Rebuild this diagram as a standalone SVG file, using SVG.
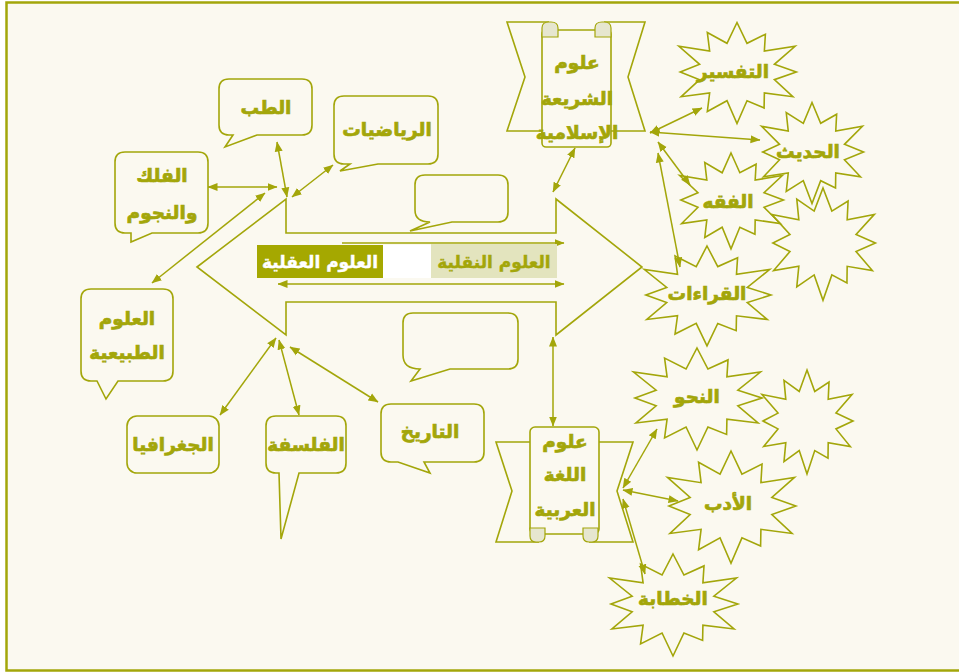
<svg xmlns="http://www.w3.org/2000/svg" xmlns:xlink="http://www.w3.org/1999/xlink" width="959" height="672" viewBox="0 0 959 672">
<style>
.ln{fill:none;stroke:#A3A60A;stroke-width:1.6}
.sh{fill:#FBF9F0;stroke:#A3A60A;stroke-width:1.6}
.st{fill:none;stroke:#A3A60A;stroke-width:1.6}
.tx{font-family:"DejaVu Sans",sans-serif;font-weight:bold;font-size:18.5px;fill:#A3A60A;stroke:#A3A60A;stroke-width:0.7;text-anchor:middle}
.cn{fill:none;stroke:#A3A60A;stroke-width:1.5;marker-start:url(#ah);marker-end:url(#ah)}
.cl{fill:#E6E6CF;stroke:#A3A60A;stroke-width:1.2}
</style>
<defs>
<marker id="ah" viewBox="0 0 10 10" refX="9.5" refY="5" markerWidth="10" markerHeight="10" markerUnits="userSpaceOnUse" orient="auto-start-reverse">
<path d="M0,1 L10,5 L0,9 Z" fill="#A3A60A"/>
</marker>
<path id="star" vector-effect="non-scaling-stroke" d="M0,-50 L7.76,-28.98 L22,-38.1 L21.21,-21.21 L45.03,-26 L28.98,-7.76 L46,0 L28.98,7.76 L43.3,25 L21.21,21.21 L21,36.37 L7.76,28.98 L0,52 L-7.76,28.98 L-23,39.84 L-21.21,21.21 L-43.3,25 L-28.98,7.76 L-44,0 L-28.98,-7.76 L-45.03,-26 L-21.21,-21.21 L-23,-39.84 L-7.76,-28.98 Z"/>
</defs>
<rect width="959" height="672" fill="#FFFFFF"/>
<rect x="6.5" y="2.5" width="960" height="668" fill="#FBF9F0" stroke="#A3A60A" stroke-width="2.5"/>

<g id="big-arrow">
<polygon class="sh" points="197,267 286,199 286,233 556,233 556,199 642,267 556,335 556,302 286,302 286,335"/>
<rect x="383" y="245" width="48" height="33" fill="#FFFFFF"/>
<line class="cn" x1="278" y1="284" x2="564" y2="284"/>
<line class="ln" x1="342" y1="243" x2="564" y2="243" style="marker-end:url(#ah)"/>
</g>

<g id="label-aqliya">
<rect x="257" y="245" width="126" height="33" fill="#A5A800"/>
<text class="tx" x="320" y="268" style="fill:#FFFFFF;stroke:#FFFFFF;stroke-width:0.4;font-size:17px">العلوم العقلية</text>
</g>
<g id="label-naqliya">
<rect x="431" y="244" width="126" height="34" fill="#E3E4BE"/>
<text class="tx" x="494" y="268" style="font-size:17px;stroke-width:0.4">العلوم النقلية</text>
</g>

<g id="callout-empty-top">
<path class="sh" d="M425,175 H498 Q508,175 508,185 V212 Q508,222 498,222 H452 L410,231 L430,222 Q415,222 415,210 V185 Q415,175 425,175 Z"/>
</g>
<g id="callout-empty-bottom">
<path class="sh" d="M413,313 H508 Q518,313 518,323 V359 Q518,369 508,369 H450 L411,381 L420,369 Q403,369 403,355 V323 Q403,313 413,313 Z"/>
</g>

<g id="tib">
<path class="sh" d="M229,79 H302 Q312,79 312,89 V125 Q312,135 302,135 H257 L225,147 L233,135 H229 Q219,135 219,125 V89 Q219,79 229,79 Z"/>
<text class="tx" x="266" y="114">الطب</text>
</g>
<g id="riyadiyat">
<path class="sh" d="M344,96 H428 Q438,96 438,106 V154 Q438,164 428,164 H378 L340,171 L350,164 H344 Q334,164 334,154 V106 Q334,96 344,96 Z"/>
<text class="tx" x="387" y="136">الرياضيات</text>
</g>
<g id="falak">
<path class="sh" d="M125,152 H198 Q208,152 208,162 V223 Q208,233 198,233 H152 L131,242 L131,233 H125 Q115,233 115,223 V162 Q115,152 125,152 Z"/>
<text class="tx" x="162" y="182">الفلك</text>
<text class="tx" x="162" y="219">والنجوم</text>
</g>
<g id="tabiiya">
<path class="sh" d="M91,289 H163 Q173,289 173,299 V371 Q173,381 163,381 H118 L106,399 L97,381 H91 Q81,381 81,371 V299 Q81,289 91,289 Z"/>
<text class="tx" x="127" y="325">العلوم</text>
<text class="tx" x="127" y="359">الطبيعية</text>
</g>
<g id="jughrafiya">
<rect class="sh" x="127" y="416" width="92" height="57" rx="10"/>
<text class="tx" x="173" y="451">الجغرافيا</text>
</g>
<g id="falsafa">
<path class="sh" d="M276,416 H336 Q346,416 346,426 V463 Q346,473 336,473 H299 L281,539 L279,473 H276 Q266,473 266,463 V426 Q266,416 276,416 Z"/>
<text class="tx" x="306" y="451">الفلسفة</text>
</g>
<g id="tarikh">
<path class="sh" d="M391,404 H474 Q484,404 484,414 V452 Q484,462 474,462 H424 L430,473 L398,462 H391 Q381,462 381,452 V414 Q381,404 391,404 Z"/>
<text class="tx" x="430" y="438">التاريخ</text>
</g>

<g id="sharia">
<path class="sh" d="M549,22 H507 L525,77 L507,131 H545"/>
<path class="sh" d="M604,22 H645 L628,77 L645,131 H608"/>
<rect class="sh" x="542" y="30" width="69" height="117" rx="4"/>
<path class="cl" d="M542,37 V28 Q542,22 549,22 L551,22 Q558,22 558,28 V37 Z"/>
<path class="cl" d="M595,37 V28 Q595,22 602,22 L604,22 Q611,22 611,28 V37 Z"/>
<text class="tx" x="577" y="69">علوم</text>
<text class="tx" x="577" y="105">الشريعة</text>
<text class="tx" x="577" y="139">الإسلامية</text>
</g>

<g id="lugha">
<path class="sh" d="M530,442 H496 L512,491 L496,542 H539"/>
<path class="sh" d="M599,442 H633 L617,491 L633,542 H589"/>
<rect class="sh" x="530" y="427" width="69" height="107" rx="5"/>
<path class="cl" d="M530,528 V536 Q530,542 536,542 H539 Q545,542 545,536 V528 Z"/>
<path class="cl" d="M583,528 V536 Q583,542 589,542 H592 Q598,542 598,536 V528 Z"/>
<text class="tx" x="565" y="448">علوم</text>
<text class="tx" x="565" y="481">اللغة</text>
<text class="tx" x="565" y="516">العربية</text>
</g>

<g id="tafsir">
<use xlink:href="#star" class="st" transform="translate(737,72) scale(1.29,0.99)"/>
<text class="tx" x="733" y="78">التفسير</text>
</g>
<g id="hadith">
<use xlink:href="#star" class="st" transform="translate(812,152) scale(1.12,0.99)"/>
<text class="tx" x="808" y="158">الحديث</text>
</g>
<g id="fiqh">
<use xlink:href="#star" class="st" transform="translate(731,200) scale(1.14,0.94)"/>
<text class="tx" x="728" y="208">الفقه</text>
</g>
<g id="star-empty-1">
<use xlink:href="#star" class="st" transform="translate(823,243) scale(1.14,1.1)"/>
</g>
<g id="qiraat">
<use xlink:href="#star" class="st" transform="translate(707,295) scale(1.39,0.98)"/>
<text class="tx" x="707" y="300">القراءات</text>
</g>
<g id="nahw">
<use xlink:href="#star" class="st" transform="translate(697,398) scale(1.41,1.0)"/>
<text class="tx" x="697" y="403">النحو</text>
</g>
<g id="star-empty-2">
<use xlink:href="#star" class="st" transform="translate(807,421) scale(1.0,1.02)"/>
</g>
<g id="adab">
<use xlink:href="#star" class="st" transform="translate(731,506) scale(1.41,1.1)"/>
<text class="tx" x="728" y="510">الأدب</text>
</g>
<g id="khitaba">
<use xlink:href="#star" class="st" transform="translate(673,604) scale(1.41,1.0)"/>
<text class="tx" x="673" y="605">الخطابة</text>
</g>

<g id="connectors">
<line class="cn" x1="277" y1="142" x2="287" y2="197"/>
<line class="cn" x1="333" y1="165" x2="292" y2="197"/>
<line class="cn" x1="208" y1="187" x2="277" y2="187"/>
<line class="cn" x1="152" y1="283" x2="265" y2="193"/>
<line class="cn" x1="220" y1="415" x2="276" y2="338"/>
<line class="cn" x1="279" y1="340" x2="299" y2="415"/>
<line class="cn" x1="290" y1="347" x2="378" y2="402"/>
<line class="cn" x1="553" y1="192" x2="575" y2="148"/>
<line class="cn" x1="553" y1="337" x2="553" y2="426"/>
<line class="cn" x1="650" y1="133" x2="702" y2="108"/>
<line class="cn" x1="650" y1="132" x2="760" y2="140"/>
<line class="cn" x1="658" y1="142" x2="690" y2="185"/>
<line class="cn" x1="658" y1="153" x2="680" y2="267"/>
<line class="cn" x1="623" y1="488" x2="657" y2="429"/>
<line class="cn" x1="623" y1="490" x2="678" y2="501"/>
<line class="cn" x1="623" y1="499" x2="645" y2="574"/>
</g>
</svg>
